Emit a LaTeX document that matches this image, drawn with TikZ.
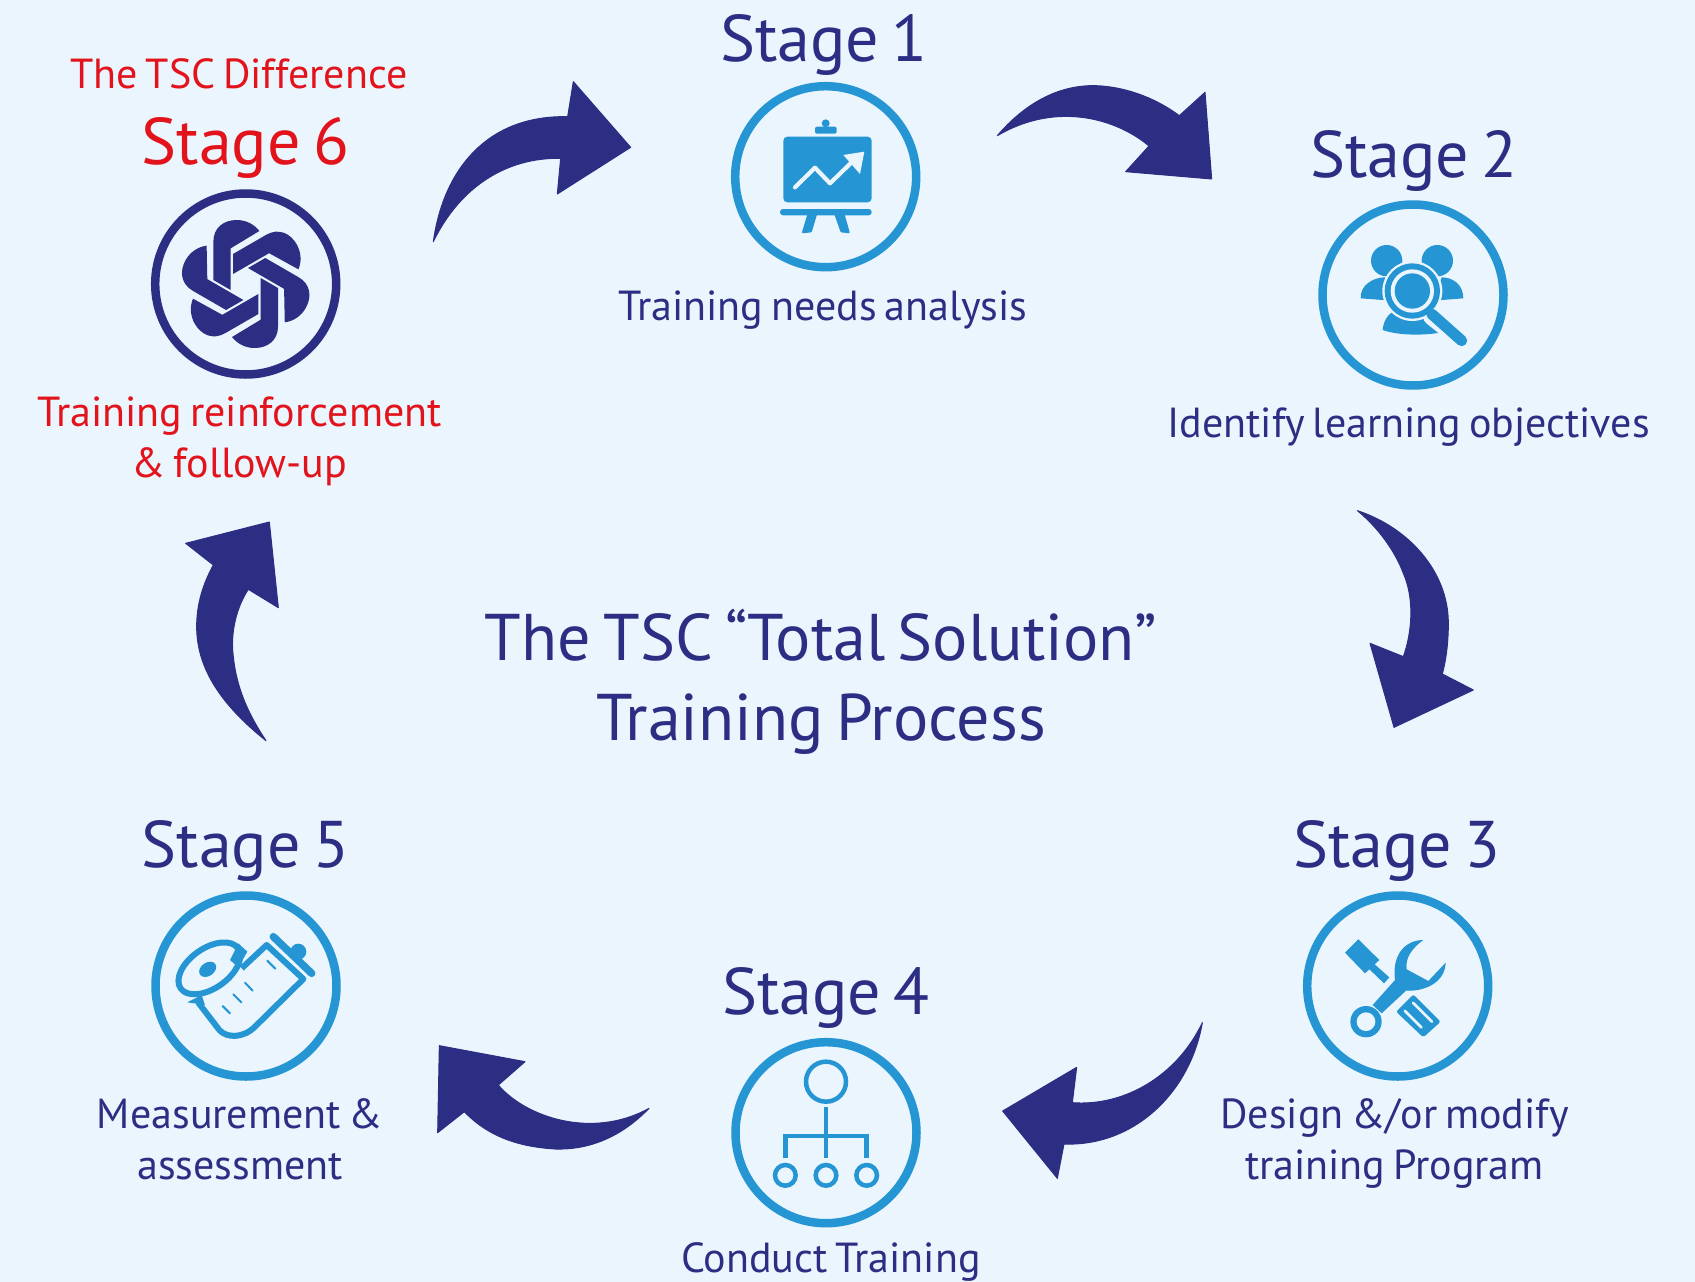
\documentclass[tikz,border=0pt]{standalone}
\usepackage{fontspec}
\setmainfont[WordSpace=0.7]{PT Sans}
\definecolor{navy}{HTML}{2B2E83}
\definecolor{skyb}{HTML}{2596D3}
\definecolor{paper}{HTML}{EAF5FE}
\definecolor{redt}{HTML}{E2131B}
\newcommand{\fs}[1]{\fontsize{#1}{#1}\selectfont}
\tikzset{
  ring/.style={circle,draw=skyb,line width=8.5pt,minimum size=181pt,inner sep=0pt,outer sep=0pt},
  ringnavy/.style={ring,draw=navy},
  stagetext/.style={anchor=base,inner sep=0pt,text=navy,font=\fs{66}},
  redstage/.style={stagetext,text=redt},
  caption/.style={anchor=base,inner sep=0pt,text=navy,font=\fs{42},align=center},
  redcaption/.style={caption,text=redt},
  titletext/.style={anchor=base,inner sep=0pt,text=navy,font=\fs{66},align=center},
  bigarrow/.style={fill=navy,draw=navy,line width=1pt,line join=round},
  icon/.style={shift={#1},scale=0.33333},
}
\begin{document}
\begin{tikzpicture}[x=1pt,y=-1pt]
\useasboundingbox (0,0) rectangle (1695,1282);
\fill[paper] (0,0) rectangle (1695,1282);

% rings
\node[ring] (r1) at (825.7,176.7) {};
\node[ring] (r2) at (1413,295) {};
\node[ring] (r3) at (1397.7,986) {};
\node[ring] (r4) at (826,1132.7) {};
\node[ring] (r5) at (246,986) {};
\node[ringnavy] (r6) at (245.7,284) {};

% texts (multi-line nodes are anchored on their last baseline)
\node[stagetext] (s1) at (824,61.6) {Stage 1};
\node[stagetext] (s2) at (1414,177) {Stage 2};
\node[stagetext] (s3) at (1397,867) {Stage 3};
\node[stagetext] (s4) at (826,1014) {Stage 4};
\node[stagetext] (s5) at (245.5,867) {Stage 5};
\node[redstage] (s6) at (245.5,164) {Stage 6};
\node[redcaption] (d6) at (239,88.6) {The TSC Difference};
\node[caption] (c1) at (823,320) {Training needs analysis};
\node[caption] (c2) at (1408.6,437) {Identify learning objectives};
\node[caption] (c3) at (1394.5,1179.5) {Design \&/or modify\\[9pt]training Program};
\node[caption] (c4) at (831,1272) {Conduct Training};
\node[caption] (c5) at (240,1179.5) {Measurement \&\\[9pt]assessment};
\node[redcaption] (c6) at (239.5,477) {Training reinforcement\\[9pt]\& follow-up};
\node[titletext] (t) at (821,740.5) {The TSC “Total Solution”\\[14pt]Training Process};

% arrows
\begin{scope}[icon={(420,70)}]
\path[bigarrow] (40,515) .. controls (70,300) and (200,135) .. (443,140) -- (460,35) -- (632,232) -- (412,372) -- (422,265) .. controls (260,262) and (120,350) .. (40,515) -- cycle;
\end{scope}
\begin{scope}[icon={(985,70)}]
\path[bigarrow] (37,197) .. controls (120,100) and (220,45) .. (330,47) .. controls (430,50) and (520,90) .. (583,137) -- (660,67) -- (680,327) -- (422,305) -- (492,228) .. controls (400,150) and (220,90) .. (37,197) -- cycle;
\end{scope}
\begin{scope}[icon={(1340,500)}]
\path[bigarrow] (52,32) .. controls (200,80) and (325,210) .. (325,370) .. controls (325,430) and (318,480) .. (307,522) -- (400,570) -- (162,682) -- (90,430) -- (190,470) .. controls (215,400) and (225,300) .. (190,220) .. controls (160,140) and (100,70) .. (52,32) -- cycle;
\end{scope}
\begin{scope}[icon={(990,1010)}]
\path[bigarrow] (637,38) .. controls (600,250) and (430,410) .. (222,402) -- (202,505) -- (38,303) -- (260,172) -- (247,278) .. controls (400,290) and (560,200) .. (637,38) -- cycle;
\end{scope}
\begin{scope}[icon={(425,1030)}]
\path[bigarrow] (672,235) .. controls (580,330) and (480,360) .. (390,357) .. controls (280,350) and (190,320) .. (118,245) -- (38,308) -- (43,47) -- (300,95) -- (220,165) .. controls (300,260) and (500,330) .. (672,235) -- cycle;
\end{scope}
\begin{scope}[icon={(180,510)}]
\path[bigarrow] (258,692) .. controls (130,590) and (50,480) .. (50,350) .. controls (50,280) and (70,220) .. (100,165) -- (17,100) -- (268,36) -- (295,293) -- (205,238) .. controls (170,290) and (150,370) .. (160,440) .. controls (170,540) and (210,620) .. (258,692) -- cycle;
\end{scope}

% icon 6: knot
\begin{scope}[icon={(245.7,284)}]
\foreach \a in {0,60,...,300}{
  \begin{scope}[rotate=\a]
  \fill[navy] (-97,-12) -- (-97,-127) .. controls (-97,-170) and (-65,-192) .. (-27,-192) .. controls (0,-192) and (25,-180) .. (41,-159) -- (-45,-107) -- (-45,18) -- cycle;
  \end{scope}
}
\end{scope}

% icon 1: easel
\begin{scope}[icon={(710,70)}]
\fill[skyb] (347,160) circle[radius=12];
\fill[skyb,rounded corners=2pt] (315,170) rectangle (380,191);
\fill[skyb,rounded corners=4pt] (220,200) rectangle (485,397);
\fill[skyb,rounded corners=3pt] (210,417) rectangle (485,436);
\fill[skyb,rounded corners=1pt] (293,430) -- (275,490) -- (305,487) -- (322,430) -- cycle;
\fill[skyb,rounded corners=1pt] (372,430) -- (392,487) -- (420,490) -- (403,430) -- cycle;
\draw[paper,line width=4.2pt,line cap=round,line join=round] (255,352) -- (315,293) -- (360,340) -- (430,272);
\fill[paper] (400,255) -- (463,245) -- (450,312) -- cycle;
\end{scope}

% icon 2: people and lens
\begin{scope}[icon={(1300,190)}]
\fill[skyb] (260,212) circle[radius=47];
\fill[skyb] (412,212) circle[radius=47];
\fill[skyb] (182,325) .. controls (180,285) and (220,262) .. (255,262) -- (275,332) -- cycle;
\fill[skyb] (490,325) .. controls (490,285) and (460,262) .. (425,262) -- (400,332) -- cycle;
\fill[skyb] (248,420) .. controls (250,395) and (262,370) .. (290,360) -- (380,360) -- (420,428) .. controls (360,438) and (290,435) .. (248,420) -- cycle;
\draw[paper,line width=17pt,line cap=round] (395,380) -- (485,452);
\fill[paper] (337,303) circle[radius=90];
\draw[skyb,line width=11pt,line cap=round] (395,372) -- (485,452);
\fill[skyb] (337,303) circle[radius=83];
\fill[paper] (337,303) circle[radius=65];
\fill[skyb] (337,303) circle[radius=53];
\end{scope}

% icon 3: tools
\begin{scope}[icon={(1290,880)}]
\fill[skyb] (165,218) -- (205,178) -- (268,240) -- (225,280) -- cycle;
\fill[skyb] (245,245) -- (298,292) -- (282,310) -- (232,262) -- cycle;
\draw[skyb,fill=skyb,line width=4pt,line join=round] (327,395) -- (370,352) -- (443,425) -- (400,464) -- cycle;
\draw[paper,line width=2.6pt,line cap=round] (344,392) -- (394,442);
\draw[paper,line width=2.6pt,line cap=round] (369,368) -- (426,425);
\fill[skyb] (400,180) .. controls (345,180) and (305,225) .. (315,300) -- (248,375) -- (275,400) -- (348,332) .. controls (400,335) and (465,310) .. (467,248) -- (415,303) -- (350,268) .. controls (345,235) and (365,205) .. (400,180) -- cycle;
\fill[skyb] (228,425) circle[radius=47];
\fill[paper] (228,425) circle[radius=28];
\end{scope}

% icon 4: hierarchy
\begin{scope}[icon={(710,1030)}]
\draw[skyb,line width=4.5pt] (348,155) circle[radius=60];
\draw[skyb,line width=4.5pt] (348,232) -- (348,385);
\draw[skyb,line width=4.5pt] (226,385) -- (226,318) -- (470,318) -- (470,385);
\draw[skyb,line width=4.5pt] (226,436) circle[radius=31];
\draw[skyb,line width=4.5pt] (348,436) circle[radius=31];
\draw[skyb,line width=4.5pt] (470,436) circle[radius=31];
\end{scope}

% icon 5: tape roll
\begin{scope}[icon={(130,880)}]
\fill[skyb] (325,190) -- (352,215) -- (325,262) -- (300,240) -- cycle;
\fill[skyb] (172,367) -- (215,345) -- (225,375) -- cycle;
\draw[skyb,line width=6pt] (238,265) ellipse[x radius=105pt,y radius=60pt,rotate=35];
\fill[skyb] (233,268) ellipse[x radius=28pt,y radius=20pt,rotate=35];
\draw[skyb,line width=6pt,line join=round] (205,368) -- (268,450) .. controls (290,475) and (340,475) .. (375,440) -- (520,297) -- (410,195) -- (335,265);
\draw[skyb,line width=7.5pt,line cap=round] (430,170) -- (545,280);
\fill[skyb] (505,215) circle[radius=24];
\draw[skyb,line width=2pt,line cap=round] (278,378) -- (300,400);
\draw[skyb,line width=2pt,line cap=round] (310,343) -- (334,367);
\draw[skyb,line width=2pt,line cap=round] (345,308) -- (368,332);
\draw[skyb,line width=2pt,line cap=round] (412,242) -- (436,266);
\end{scope}
\end{tikzpicture}
\end{document}
